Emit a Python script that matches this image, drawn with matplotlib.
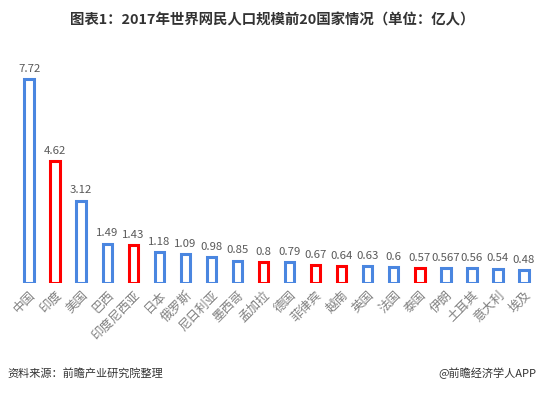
import matplotlib.pyplot as plt

plt.rcParams['font.family'] = ['Noto Sans CJK SC', 'DejaVu Sans']

countries = ['中国', '印度', '美国', '巴西', '印度尼西亚', '日本', '俄罗斯', '尼日利亚',
             '墨西哥', '孟加拉', '德国', '菲律宾', '越南', '英国', '法国', '泰国',
             '伊朗', '土耳其', '意大利', '埃及']
values = [7.72, 4.62, 3.12, 1.49, 1.43, 1.18, 1.09, 0.98, 0.85, 0.8,
          0.79, 0.67, 0.64, 0.63, 0.6, 0.57, 0.567, 0.56, 0.54, 0.48]
labels = ['7.72', '4.62', '3.12', '1.49', '1.43', '1.18', '1.09', '0.98', '0.85', '0.8',
          '0.79', '0.67', '0.64', '0.63', '0.6', '0.57', '0.567', '0.56', '0.54', '0.48']
highlight = ['印度', '印度尼西亚', '孟加拉', '菲律宾', '越南', '泰国']

blue = '#4a86e0'
red = '#ff0000'
colors = [red if c in highlight else blue for c in countries]

fig = plt.figure(figsize=(5.45, 3.93), dpi=100)
ax = fig.add_axes([0.0294, 0.28, 0.956, 0.571])

x = range(len(countries))
ax.bar(x, values, width=0.36, facecolor='white', edgecolor=colors, linewidth=2.2)

for i, (v, t) in enumerate(zip(values, labels)):
    ax.text(i, v + 0.2, t, ha='center', va='bottom', fontsize=8.2, color='#595959')

ax.set_xlim(-0.5, len(countries) - 0.5)
ax.set_ylim(0, 8.5)
ax.set_xticks(list(x))
ax.set_xticklabels(countries, rotation=45, ha='right', rotation_mode='anchor',
                   fontsize=9, color='#808080')
ax.tick_params(axis='x', length=0, pad=4)
ax.set_yticks([])
for s in ax.spines.values():
    s.set_visible(False)

fig.text(0.5, 0.948, '图表1：2017年世界网民人口规模前20国家情况（单位：亿人）',
         ha='center', va='center', fontsize=10.4, fontweight='bold', color='#333333')
fig.text(0.013, 0.05, '资料来源：前瞻产业研究院整理', ha='left', va='center',
         fontsize=8, style='italic', color='#333333')
fig.text(0.985, 0.05, '@前瞻经济学人APP', ha='right', va='center',
         fontsize=8, color='#333333')

fig.savefig('out.png', dpi=100)
